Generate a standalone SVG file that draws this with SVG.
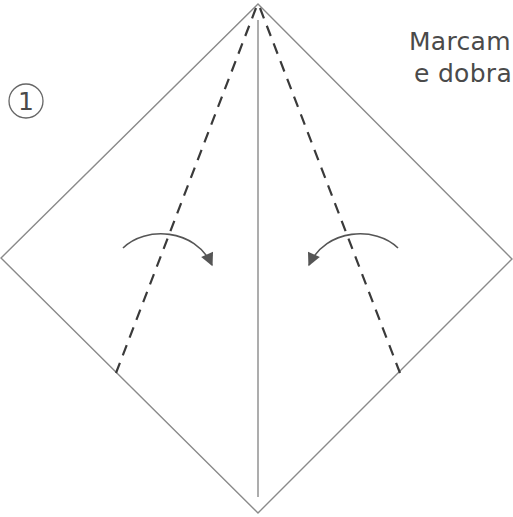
<svg xmlns="http://www.w3.org/2000/svg" width="513" height="517" viewBox="0 0 513 517">
<style>
.edge{fill:none;stroke:#8a8a8a;stroke-width:1.4}
.fold{fill:none;stroke:#3a3a3a;stroke-width:2.2;stroke-dasharray:11 8}
.arc{fill:none;stroke:#555;stroke-width:1.6}
.lbl{font-family:"DejaVu Sans","Liberation Sans",sans-serif;fill:#4a4a4a}
</style>
<defs>
<marker id="ah" viewBox="0 0 10 10" refX="9" refY="5" markerWidth="14" markerHeight="13" markerUnits="userSpaceOnUse" orient="auto">
<path d="M0,0 L10,5 L0,10 z" fill="#555"/>
</marker>
</defs>
<rect width="513" height="517" fill="#fff"/>
<g id="paper">
<path class="edge" d="M258,4 L512,259 L258,513 L1,258 Z"/>
<line class="edge" x1="258" y1="20" x2="258" y2="497"/>
</g>
<g id="connectors">
<line class="fold" x1="256" y1="8" x2="116" y2="373"/>
<line class="fold" x1="260" y1="8" x2="400" y2="373"/>
<path class="arc" d="M123,248 C145,226 195,228 212,265" marker-end="url(#ah)"/>
<path class="arc" d="M398,248 C376,226 326,228 309,265" marker-end="url(#ah)"/>
</g>
<g id="step">
<circle cx="26" cy="101" r="17" fill="none" stroke="#666" stroke-width="1.3"/>
<text class="lbl" x="26" y="110" text-anchor="middle" font-size="25">1</text>
</g>
<g id="label">
<text class="lbl" x="409" y="50" font-size="25" letter-spacing="0.3">Marcam</text>
<text class="lbl" x="414" y="82" font-size="25" letter-spacing="0.3">e dobra</text>
</g>
</svg>
